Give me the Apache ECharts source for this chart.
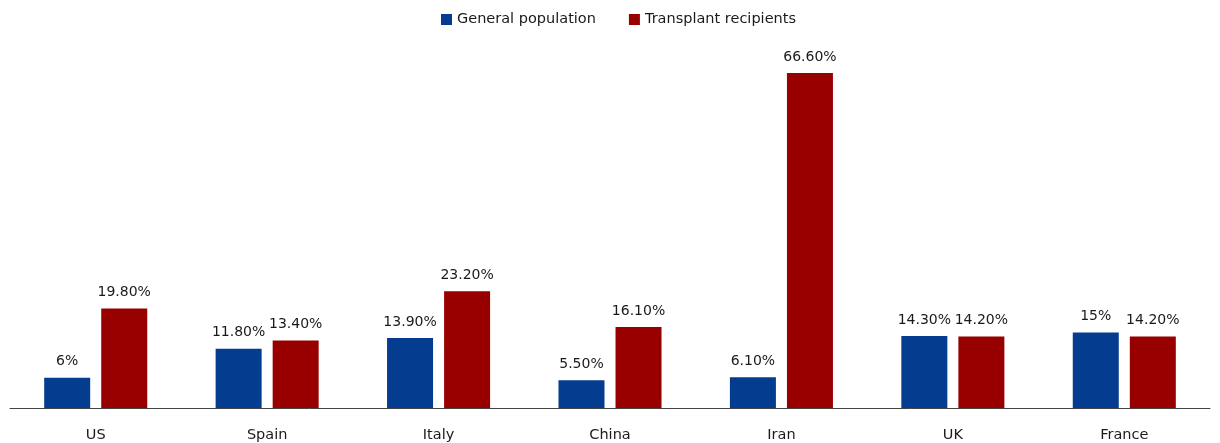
<!DOCTYPE html>
<html><head><meta charset="utf-8">
<script src="https://cdn.jsdelivr.net/npm/echarts@6/dist/echarts.min.js"></script>
<style>html,body{margin:0;padding:0;background:#fff}#c{width:1220px;height:443px}</style>
</head><body><div id="c"></div>
<script>
const categories = ["US","Spain","Italy","China","Iran","UK","France"];
const generalPopulation = [6, 11.8, 13.9, 5.5, 6.1, 14.3, 15];
const transplantRecipients = [19.8, 13.4, 23.2, 16.1, 66.6, 14.2, 14.2];
const generalLabels = ["6%","11.80%","13.90%","5.50%","6.10%","14.30%","15%"];
const transplantLabels = ["19.80%","13.40%","23.20%","16.10%","66.60%","14.20%","14.20%"];

const chart = echarts.init(document.getElementById('c'));
const labelStyle = {show:true, position:'top', distance:9, fontFamily:'DejaVu Sans', fontSize:14, color:'#1a1a1a'};
chart.setOption({
  animation:false,
  legend:{top:7, left:436, itemWidth:11, itemHeight:11, itemGap:33,
    textStyle:{fontFamily:'DejaVu Sans', fontSize:14.5, color:'#1a1a1a'}, icon:'rect'},
  grid:{left:10, right:10, top:56, bottom:35},
  xAxis:{type:'category', data:categories,
    axisLine:{lineStyle:{color:'#444', width:1}}, axisTick:{show:false},
    axisLabel:{fontFamily:'DejaVu Sans', fontSize:14.5, color:'#1a1a1a', margin:20}},
  yAxis:{type:'value', min:0, max:70, show:false, splitLine:{show:false}},
  series:[
    {name:'General population', type:'bar', data:generalPopulation, barWidth:46, barGap:'24%',
     itemStyle:{color:'#043c8f'},
     label:Object.assign({}, labelStyle, {formatter:p=>generalLabels[p.dataIndex]})},
    {name:'Transplant recipients', type:'bar', data:transplantRecipients, barWidth:46,
     itemStyle:{color:'#980000'},
     label:Object.assign({}, labelStyle, {formatter:p=>transplantLabels[p.dataIndex]})}
  ]
});
</script></body></html>
